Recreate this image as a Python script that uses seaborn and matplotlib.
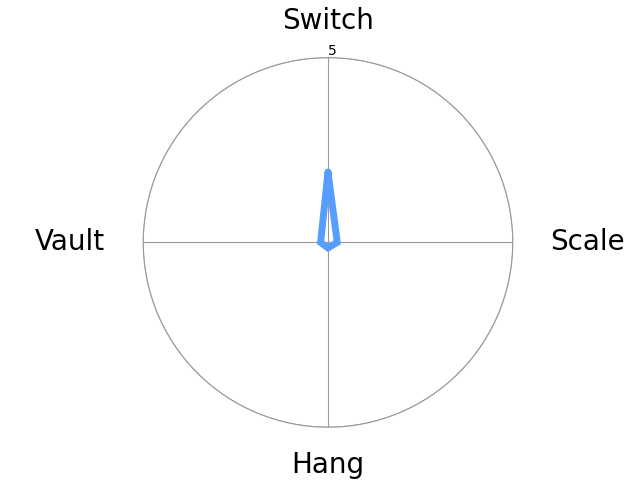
import numpy as np
import pandas as pd
import matplotlib
matplotlib.use("Agg")
import matplotlib.pyplot as plt
import seaborn as sns

# 数据
categories = ["Switch", "Scale", "Hang", "Vault"]
values = [1.9, 0.25, 0.15, 0.2]
r_max = 5

sns.set_style("white")
plt.rcParams["font.family"] = ["DejaVu Sans"]
plt.rcParams["text.color"] = "black"

angles = np.linspace(0, 2 * np.pi, len(categories), endpoint=False)
df = pd.DataFrame({
    "angle": np.append(angles, angles[0]),
    "value": values + [values[0]],
})

fig = plt.figure(figsize=(6.4, 4.8), dpi=100)
ax = fig.add_subplot(111, projection="polar")
ax.set_theta_offset(np.pi / 2)
ax.set_theta_direction(-1)

sns.lineplot(data=df, x="angle", y="value", sort=False, ax=ax,
             color="#559dff", linewidth=5, estimator=None,
             solid_joinstyle="miter")

ax.set_ylim(0, r_max)
ax.set_xticks(angles)
ax.set_xticklabels([])

# 类别标签（手动放置，离圆周留出距离）
label_r = [5.78, 6.0, 6.23, 6.03]
label_ha = ["center", "left", "center", "right"]
label_va = ["baseline", "center", "baseline", "center"]
for ang, name, r, ha, va in zip(angles, categories, label_r, label_ha, label_va):
    ax.text(ang, r, name, fontsize=20, ha=ha, va=va, color="black", clip_on=False)

ax.set_yticks([r_max])
ax.set_yticklabels([str(r_max)], fontsize=10, color="black")
ax.set_rlabel_position(0)
ax.set_xlabel("")
ax.set_ylabel("")
ax.grid(True, color="#999999", linewidth=0.8)
ax.spines["polar"].set_color("#999999")
ax.spines["polar"].set_linewidth(0.8)

fig.savefig("out.png", dpi=100)
